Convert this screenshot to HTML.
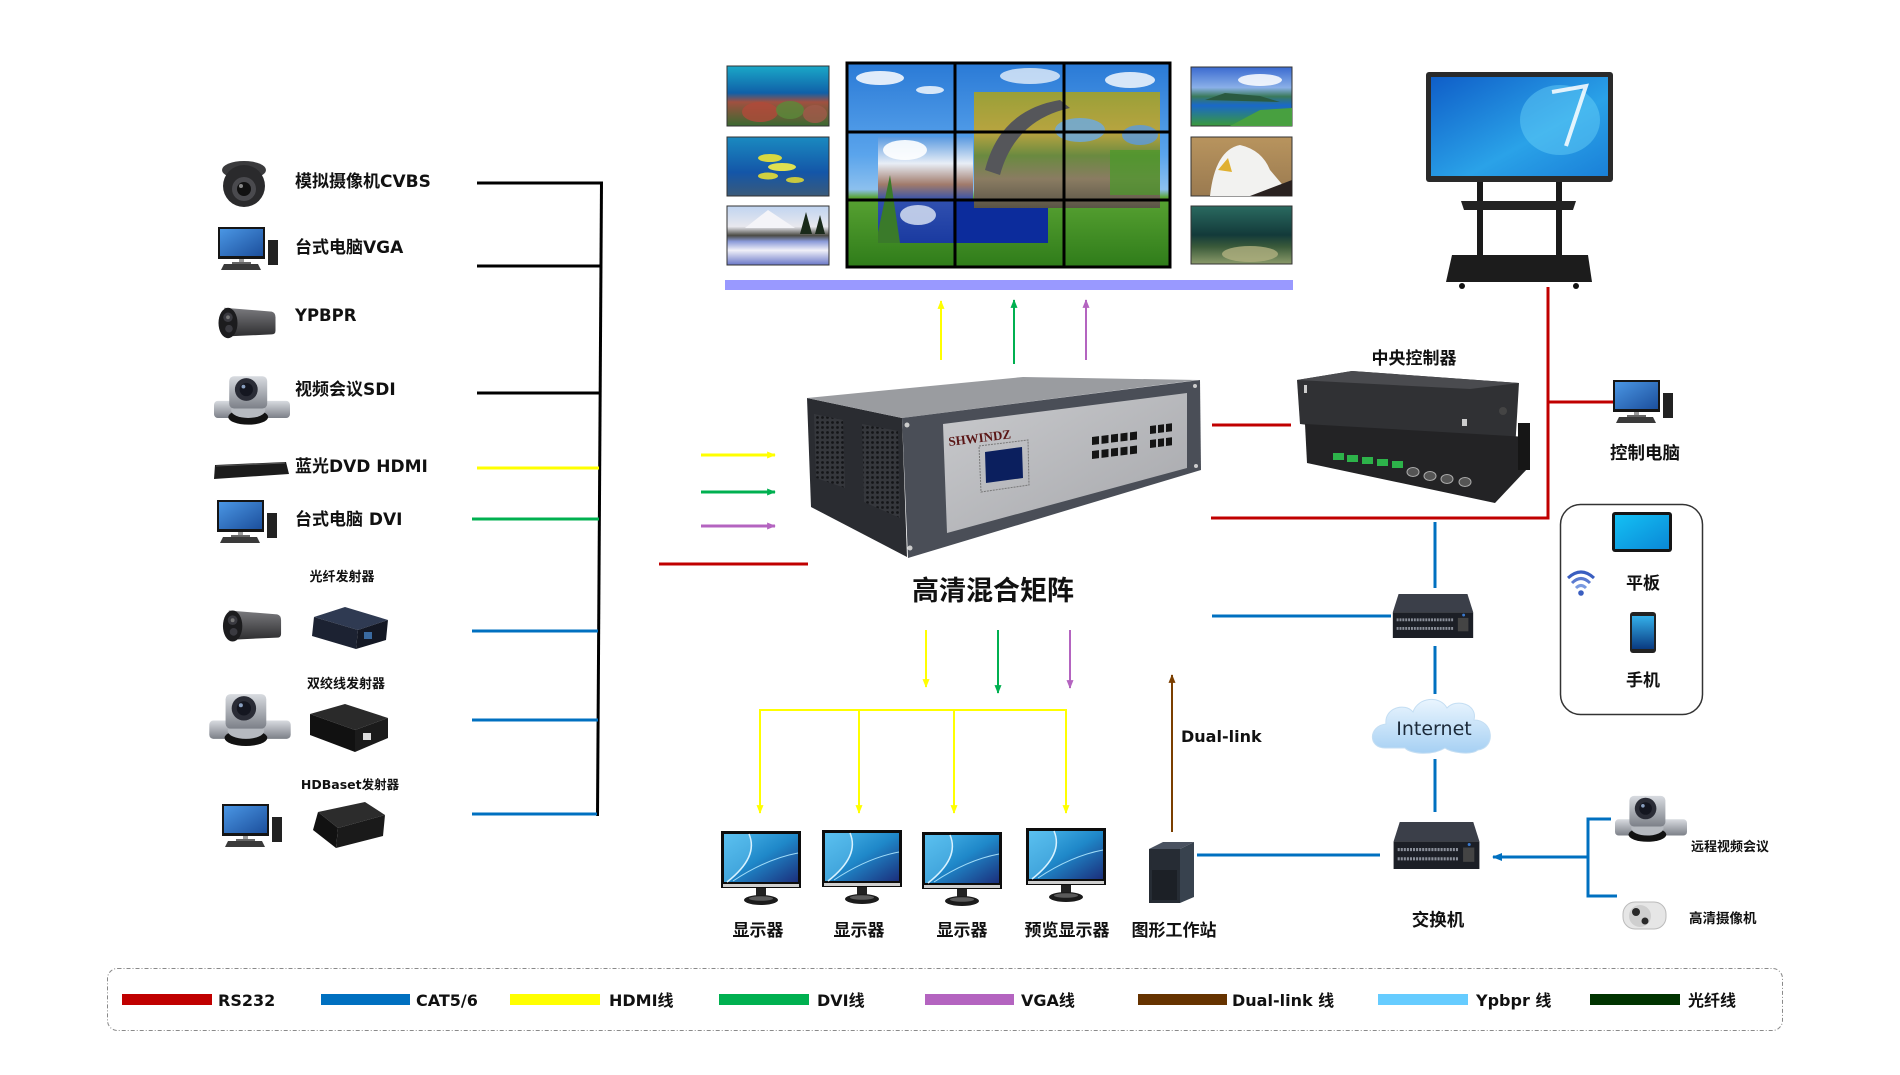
<!DOCTYPE html>
<html><head><meta charset="utf-8"><style>
html,body{margin:0;padding:0;background:#fff;}
svg{display:block;}
</style></head><body>
<svg width="1900" height="1075" viewBox="0 0 1900 1075" xmlns="http://www.w3.org/2000/svg">
<defs>
<linearGradient id="gpc" x1="0" y1="0" x2="1" y2="1"><stop offset="0" stop-color="#4a96e4"/><stop offset="1" stop-color="#1c4f9c"/></linearGradient>
<linearGradient id="gms" x1="0" y1="0" x2="1" y2="1"><stop offset="0" stop-color="#4bb8ec"/><stop offset="0.5" stop-color="#1f88c9"/><stop offset="1" stop-color="#1b2f7c"/></linearGradient>
<linearGradient id="gsky" x1="0" y1="0" x2="0" y2="1"><stop offset="0" stop-color="#2a7ad6"/><stop offset="0.45" stop-color="#5aa4ec"/><stop offset="0.62" stop-color="#8cc0ee"/><stop offset="0.66" stop-color="#58a232"/><stop offset="1" stop-color="#2f7c1a"/></linearGradient>
<linearGradient id="gtree" x1="0" y1="0" x2="0" y2="1"><stop offset="0" stop-color="#9aa038"/><stop offset="0.35" stop-color="#b8a440"/><stop offset="0.55" stop-color="#6a8a40"/><stop offset="0.75" stop-color="#8a7c62"/><stop offset="1" stop-color="#5a5446"/></linearGradient>
<linearGradient id="glake" x1="0" y1="0" x2="0" y2="1"><stop offset="0" stop-color="#5a9ae0"/><stop offset="0.25" stop-color="#e8eef6"/><stop offset="0.45" stop-color="#a07a6a"/><stop offset="0.6" stop-color="#3050b0"/><stop offset="1" stop-color="#1a3aa0"/></linearGradient>
<linearGradient id="gcoral" x1="0" y1="0" x2="0" y2="1"><stop offset="0" stop-color="#1aa8c8"/><stop offset="0.45" stop-color="#1060a8"/><stop offset="0.6" stop-color="#a05040"/><stop offset="1" stop-color="#3a6a30"/></linearGradient>
<linearGradient id="gfish" x1="0" y1="0" x2="0" y2="1"><stop offset="0" stop-color="#1a8ac0"/><stop offset="0.6" stop-color="#1456a8"/><stop offset="1" stop-color="#3a5a7a"/></linearGradient>
<linearGradient id="gsnow" x1="0" y1="0" x2="0" y2="1"><stop offset="0" stop-color="#c0d4f0"/><stop offset="0.35" stop-color="#e8e8ee"/><stop offset="0.5" stop-color="#4a4a44"/><stop offset="0.6" stop-color="#8a9ad8"/><stop offset="0.75" stop-color="#f0f0f8"/><stop offset="1" stop-color="#6a78c8"/></linearGradient>
<linearGradient id="gisl" x1="0" y1="0" x2="0" y2="1"><stop offset="0" stop-color="#3a6ad0"/><stop offset="0.35" stop-color="#8ab0e8"/><stop offset="0.5" stop-color="#3a7a5a"/><stop offset="0.65" stop-color="#1a68c8"/><stop offset="1" stop-color="#3a9a3a"/></linearGradient>
<linearGradient id="geagle" x1="0" y1="0" x2="0" y2="1"><stop offset="0" stop-color="#b8945e"/><stop offset="1" stop-color="#9a7a50"/></linearGradient>
<linearGradient id="gsea" x1="0" y1="0" x2="0" y2="1"><stop offset="0" stop-color="#2a6a60"/><stop offset="0.5" stop-color="#133a3a"/><stop offset="0.7" stop-color="#3a5a3a"/><stop offset="1" stop-color="#8a9a6a"/></linearGradient>
<linearGradient id="gpanel" x1="0" y1="0" x2="1" y2="1"><stop offset="0" stop-color="#c9cacd"/><stop offset="1" stop-color="#a6a7ab"/></linearGradient>
<linearGradient id="gtouch" x1="0" y1="0" x2="1" y2="1"><stop offset="0" stop-color="#0f5ec8"/><stop offset="0.6" stop-color="#2aa2e8"/><stop offset="1" stop-color="#1a80d8"/></linearGradient>
<linearGradient id="gcloud" x1="0" y1="0" x2="0" y2="1"><stop offset="0" stop-color="#eaf5fe"/><stop offset="1" stop-color="#a6d0f3"/></linearGradient>
<linearGradient id="gtab" x1="0" y1="0" x2="1" y2="1"><stop offset="0" stop-color="#14c0f4"/><stop offset="1" stop-color="#0a88d6"/></linearGradient>
<linearGradient id="gph" x1="0" y1="0" x2="0" y2="1"><stop offset="0" stop-color="#34b0ea"/><stop offset="1" stop-color="#0a3a80"/></linearGradient>
<linearGradient id="gsil" x1="0" y1="0" x2="0" y2="1"><stop offset="0" stop-color="#d8dbe0"/><stop offset="1" stop-color="#7c8088"/></linearGradient>
<linearGradient id="gbul" x1="0" y1="0" x2="0" y2="1"><stop offset="0" stop-color="#7a7a7e"/><stop offset="1" stop-color="#2e2e30"/></linearGradient>
<pattern id="perf" width="5" height="5" patternUnits="userSpaceOnUse"><rect width="5" height="5" fill="#35373c"/><circle cx="2.5" cy="2.5" r="1.4" fill="#141518"/></pattern>

<marker id="my" viewBox="0 0 10 8" refX="9" refY="4" markerWidth="9" markerHeight="7" markerUnits="userSpaceOnUse" orient="auto"><path d="M0,0 L10,4 L0,8 z" fill="#ffff00"/></marker>
<marker id="mg" viewBox="0 0 10 8" refX="9" refY="4" markerWidth="9" markerHeight="7" markerUnits="userSpaceOnUse" orient="auto"><path d="M0,0 L10,4 L0,8 z" fill="#00b050"/></marker>
<marker id="mp" viewBox="0 0 10 8" refX="9" refY="4" markerWidth="9" markerHeight="7" markerUnits="userSpaceOnUse" orient="auto"><path d="M0,0 L10,4 L0,8 z" fill="#b464c0"/></marker>
<marker id="mb" viewBox="0 0 10 8" refX="9" refY="4" markerWidth="9" markerHeight="7" markerUnits="userSpaceOnUse" orient="auto"><path d="M0,0 L10,4 L0,8 z" fill="#7b3f00"/></marker>
<marker id="mbl" viewBox="0 0 10 8" refX="9" refY="4" markerWidth="10" markerHeight="9" markerUnits="userSpaceOnUse" orient="auto"><path d="M0,0 L10,4 L0,8 z" fill="#0070c0"/></marker>

<symbol id="pc" viewBox="0 0 62 44">
 <rect x="0" y="0" width="47" height="32" fill="#151515"/>
 <rect x="2" y="2" width="43" height="27" fill="url(#gpc)"/>
 <rect x="21" y="32" width="5" height="4" fill="#9a9a9a"/>
 <rect x="14" y="35" width="19" height="2" fill="#666"/>
 <rect x="50" y="13" width="10" height="25" fill="#222"/>
 <polygon points="6,37 40,37 43,43 3,43" fill="#3a3a3a"/>
</symbol>
<symbol id="mon" viewBox="0 0 80 75">
 <rect x="0" y="0" width="80" height="57" fill="#0d0d0d"/>
 <rect x="3" y="3" width="74" height="48" fill="url(#gms)"/>
 <path d="M28 3 Q40 26 6 51 L3 51 L3 3 Z" fill="#6ccaf4" opacity="0.45"/>
 <path d="M28 3 Q38 26 6 51" stroke="#d8f2ff" stroke-width="1.5" fill="none"/>
 <path d="M77 22 Q45 28 12 50" stroke="#a0dcf8" stroke-width="1" fill="none"/>
 <rect x="2" y="53" width="76" height="3" fill="#cfcfcf"/>
 <rect x="35" y="57" width="10" height="9" fill="#222"/>
 <ellipse cx="40" cy="69" rx="17" ry="5" fill="#1b1b1b"/>
 <ellipse cx="40" cy="67.5" rx="12" ry="2.3" fill="#5a5a5a"/>
</symbol>
<symbol id="sw" viewBox="0 0 84 46">
 <polygon points="6,0 78,0 84,19 0,19" fill="#3b3f49"/>
 <rect x="0" y="19" width="84" height="27" fill="#1c1f26"/>
 <line x1="4" y1="27" x2="64" y2="27" stroke="#8a8f99" stroke-width="3" stroke-dasharray="2 1"/>
 <line x1="4" y1="36" x2="64" y2="36" stroke="#8a8f99" stroke-width="3" stroke-dasharray="2 1"/>
 <rect x="68" y="25" width="11" height="14" fill="#444"/>
 <circle cx="74" cy="22" r="1.5" fill="#3a7ad0"/>
</symbol>
<symbol id="ptz" viewBox="0 0 80 56">
 <rect x="0" y="30" width="80" height="18" rx="4" fill="url(#gsil)"/>
 <ellipse cx="36" cy="47" rx="21" ry="8" fill="#121212"/>
 <ellipse cx="36" cy="40" rx="18" ry="8" fill="#b6bac0"/>
 <rect x="16" y="4" width="40" height="34" rx="5" fill="url(#gsil)"/>
 <circle cx="34" cy="18" r="12" fill="#2a2c36"/>
 <circle cx="34" cy="18" r="7" fill="#141620"/>
 <circle cx="31" cy="15" r="2" fill="#8aa0c0"/>
</symbol>
<symbol id="bul" viewBox="0 0 64 40">
 <path d="M8 4 L58 8 Q62 9 62 14 L62 28 Q62 32 58 32 L14 34 Z" fill="url(#gbul)"/>
 <ellipse cx="12" cy="20" rx="10" ry="16" fill="#1c1c1e"/>
 <circle cx="12" cy="14" r="5" fill="#3a3a40"/>
 <circle cx="13" cy="26" r="4" fill="#3a3a40"/>
 <circle cx="12" cy="14" r="2" fill="#777"/>
</symbol>
</defs>

<rect width="1900" height="1075" fill="#fff"/>

<!-- ===== Video wall ===== -->
<rect x="727" y="66" width="102" height="60" fill="url(#gcoral)" stroke="#333" stroke-width="1"/>
<ellipse cx="760" cy="112" rx="18" ry="10" fill="#b04a3a" opacity="0.8"/><ellipse cx="790" cy="110" rx="14" ry="9" fill="#5a8a3a" opacity="0.8"/><ellipse cx="815" cy="114" rx="12" ry="9" fill="#a05a4a" opacity="0.8"/>
<rect x="727" y="137" width="102" height="59" fill="url(#gfish)" stroke="#333" stroke-width="1"/>
<ellipse cx="770" cy="158" rx="12" ry="4" fill="#d8d840"/><ellipse cx="782" cy="167" rx="14" ry="4" fill="#e0e050"/><ellipse cx="768" cy="176" rx="10" ry="3.5" fill="#d0d040"/><ellipse cx="795" cy="180" rx="9" ry="3" fill="#c8c840"/>
<rect x="727" y="206" width="102" height="59" fill="url(#gsnow)" stroke="#333" stroke-width="1"/>
<polygon points="745,228 768,210 795,228" fill="#f4f4f8"/><polygon points="800,234 806,212 812,234" fill="#1a2a1a"/><polygon points="815,234 820,215 825,234" fill="#1a2a1a"/>

<rect x="847" y="63" width="323" height="204" fill="url(#gsky)"/>
<ellipse cx="880" cy="78" rx="24" ry="7" fill="#fff" opacity="0.85"/><ellipse cx="930" cy="90" rx="14" ry="4" fill="#fff" opacity="0.8"/><ellipse cx="1030" cy="76" rx="30" ry="8" fill="#fff" opacity="0.7"/><ellipse cx="1130" cy="80" rx="25" ry="8" fill="#fff" opacity="0.8"/>
<rect x="878" y="137" width="95" height="106" fill="url(#glake)"/>
<ellipse cx="905" cy="150" rx="22" ry="10" fill="#fff" opacity="0.9"/><polygon points="878,232 890,175 900,243 878,243" fill="#3a7a2a"/><ellipse cx="918" cy="215" rx="18" ry="10" fill="#e0e8f6" opacity="0.8"/>
<rect x="953" y="200" width="95" height="43" fill="#0c2c9c"/>
<rect x="974" y="92" width="186" height="116" fill="url(#gtree)"/>
<ellipse cx="1080" cy="130" rx="25" ry="12" fill="#6aaae6" opacity="0.8"/><ellipse cx="1140" cy="135" rx="18" ry="10" fill="#5a9ae0" opacity="0.8"/>
<path d="M985 170 Q1000 110 1060 100 L1070 108 Q1015 120 1000 175 Z" fill="#55565a"/>
<rect x="1110" y="150" width="50" height="45" fill="#4a9a2a" opacity="0.7"/>
<rect x="847" y="63" width="323" height="204" fill="none" stroke="#000" stroke-width="3"/>
<line x1="955" y1="63" x2="955" y2="267" stroke="#000" stroke-width="3"/>
<line x1="1064" y1="63" x2="1064" y2="267" stroke="#000" stroke-width="3"/>
<line x1="847" y1="132" x2="1170" y2="132" stroke="#000" stroke-width="3"/>
<line x1="847" y1="200" x2="1170" y2="200" stroke="#000" stroke-width="3"/>

<rect x="1191" y="67" width="101" height="59" fill="url(#gisl)" stroke="#333" stroke-width="1"/>
<ellipse cx="1260" cy="80" rx="22" ry="6" fill="#fff" opacity="0.85"/><polygon points="1205,100 1225,93 1260,96 1280,102" fill="#2a5a40"/><polygon points="1230,126 1260,110 1292,108 1292,126" fill="#48a040"/>
<rect x="1191" y="137" width="101" height="59" fill="url(#geagle)" stroke="#333" stroke-width="1"/>
<path d="M1210 196 Q1215 150 1240 145 Q1262 150 1270 170 L1292 196 Z" fill="#f2f2f0"/>
<polygon points="1228,158 1218,170 1232,172" fill="#e0b030"/><polygon points="1250,196 1292,180 1292,196" fill="#2a2220"/>
<rect x="1191" y="206" width="101" height="58" fill="url(#gsea)" stroke="#333" stroke-width="1"/>
<ellipse cx="1250" cy="254" rx="28" ry="8" fill="#b0b080" opacity="0.8"/>

<rect x="725" y="280" width="568" height="10" fill="#9999ff"/>

<!-- up arrows -->
<line x1="941" y1="360" x2="941" y2="301" stroke="#ffff00" stroke-width="2" marker-end="url(#my)"/>
<line x1="1014" y1="364" x2="1014" y2="300" stroke="#00b050" stroke-width="2" marker-end="url(#mg)"/>
<line x1="1086" y1="360" x2="1086" y2="300" stroke="#b464c0" stroke-width="2" marker-end="url(#mp)"/>

<!-- ===== Left inputs ===== -->
<g font-family="'DejaVu Sans','Noto Sans CJK SC',sans-serif" font-weight="bold" fill="#111">
<text x="295" y="187" font-size="17">模拟摄像机CVBS</text>
<text x="295" y="253" font-size="17">台式电脑VGA</text>
<text x="295" y="321" font-size="16.5">YPBPR</text>
<text x="295" y="395" font-size="17">视频会议SDI</text>
<text x="295" y="472" font-size="17">蓝光DVD HDMI</text>
<text x="295" y="525" font-size="17">台式电脑 DVI</text>
<text x="342" y="581" font-size="13" text-anchor="middle">光纤发射器</text>
<text x="346" y="688" font-size="13" text-anchor="middle">双绞线发射器</text>
<text x="350" y="789" font-size="12.5" text-anchor="middle">HDBaset发射器</text>
</g>

<!-- dome camera -->
<ellipse cx="244" cy="170" rx="22" ry="9" fill="#3a3a3c"/>
<circle cx="244" cy="186" r="21" fill="#2a2a2c"/>
<circle cx="244" cy="189" r="12" fill="#4a4a4e"/>
<circle cx="244" cy="189" r="7" fill="#111"/>
<circle cx="241" cy="186" r="2" fill="#888"/>
<use href="#pc" x="218" y="227" width="62" height="44"/>
<use href="#bul" x="215" y="304" width="64" height="38"/>
<use href="#ptz" x="214" y="372" width="76" height="54"/>
<polygon points="215,465 286,462 289,474 214,479" fill="#1c1c1c"/><line x1="216" y1="466" x2="285" y2="463" stroke="#555" stroke-width="1"/>
<use href="#pc" x="217" y="499" width="62" height="46"/>

<use href="#bul" x="221" y="605" width="62" height="42"/>
<polygon points="314,617 345,607 388,620 358,630" fill="#2f3a52"/>
<polygon points="314,617 358,630 356,649 312,636" fill="#1c2232"/>
<polygon points="358,630 388,620 386,640 356,649" fill="#141824"/>
<rect x="364" y="632" width="8" height="7" fill="#3a6aa0"/>

<use href="#ptz" x="209" y="690" width="82" height="57"/>
<polygon points="310,714 345,704 388,718 355,730" fill="#2a2a2a"/>
<polygon points="310,714 355,730 355,752 310,735" fill="#111"/>
<polygon points="355,730 388,718 388,738 355,752" fill="#1b1b1b"/>
<rect x="363" y="733" width="8" height="7" fill="#ddd"/>

<use href="#pc" x="221" y="804" width="64" height="44"/>
<polygon points="318,812 365,802 385,815 338,828" fill="#2c2c2c"/>
<polygon points="318,812 338,828 336,848 313,830" fill="#111"/>
<polygon points="338,828 385,815 383,836 336,848" fill="#1a1a1a"/>

<!-- left bus lines -->
<line x1="477" y1="183" x2="602" y2="183" stroke="#000" stroke-width="3"/>
<line x1="477" y1="266" x2="601" y2="266" stroke="#000" stroke-width="3"/>
<line x1="477" y1="393" x2="600" y2="393" stroke="#000" stroke-width="3"/>
<line x1="601.5" y1="181.5" x2="597.5" y2="816" stroke="#000" stroke-width="3"/>
<line x1="477" y1="468" x2="599" y2="468" stroke="#ffff00" stroke-width="3"/>
<line x1="472" y1="519" x2="599" y2="519" stroke="#00b050" stroke-width="3"/>
<line x1="472" y1="631" x2="598" y2="631" stroke="#0070c0" stroke-width="3"/>
<line x1="472" y1="720" x2="598" y2="720" stroke="#0070c0" stroke-width="3"/>
<line x1="472" y1="814" x2="597" y2="814" stroke="#0070c0" stroke-width="3"/>

<!-- input arrows -->
<line x1="701" y1="455" x2="775" y2="455" stroke="#ffff00" stroke-width="3" marker-end="url(#my)"/>
<line x1="701" y1="492" x2="775" y2="492" stroke="#00b050" stroke-width="3" marker-end="url(#mg)"/>
<line x1="701" y1="526" x2="775" y2="526" stroke="#b464c0" stroke-width="3" marker-end="url(#mp)"/>
<line x1="659" y1="564" x2="808" y2="564" stroke="#c00000" stroke-width="3"/>

<!-- ===== Matrix ===== -->
<polygon points="807,398 902,418 907,557 811,507" fill="#2a2c31"/>
<polygon points="814,414 843,420 845,488 816,478" fill="url(#perf)"/>
<polygon points="862,424 898,431 900,518 864,502" fill="url(#perf)"/>
<polygon points="807,398 1023,377 1198,380 902,418" fill="#9a9ca0"/>
<polygon points="902,418 1200,380 1201,470 908,558" fill="#4a4e57"/>
<polygon points="943,424 1187,393 1187,468 947,533" fill="url(#gpanel)"/>
<text x="949" y="446" font-family="'Liberation Serif',serif" font-weight="bold" font-size="13" fill="#5a1616" transform="rotate(-7 949 446)">SHWINDZ</text>
<polygon points="979,446 1028,440 1029,485 981,492" fill="none" stroke="#777" stroke-width="1" stroke-dasharray="2 1"/>
<polygon points="985,452 1022,447 1023,478 986,483" fill="#0b1f5e"/>
<g transform="translate(1092,437) skewY(-7)" fill="#141414">
<rect x="0" y="0" width="7" height="8"/><rect x="9.5" y="0" width="7" height="8"/><rect x="19" y="0" width="7" height="8"/><rect x="28.5" y="0" width="7" height="8"/><rect x="38" y="0" width="7" height="8"/>
<rect x="0" y="14" width="7" height="8"/><rect x="9.5" y="14" width="7" height="8"/><rect x="19" y="14" width="7" height="8"/><rect x="28.5" y="14" width="7" height="8"/><rect x="38" y="14" width="7" height="8"/>
</g>
<g transform="translate(1150,426) skewY(-7)" fill="#141414">
<rect x="0" y="0" width="6" height="8"/><rect x="8" y="0" width="6" height="8"/><rect x="16" y="0" width="6" height="8"/>
<rect x="0" y="14" width="6" height="8"/><rect x="8" y="14" width="6" height="8"/><rect x="16" y="14" width="6" height="8"/>
</g>
<circle cx="907" cy="425" r="2.5" fill="#ccc"/><circle cx="910" cy="548" r="2.5" fill="#ccc"/><circle cx="1195" cy="386" r="2" fill="#ccc"/><circle cx="1196" cy="466" r="2" fill="#ccc"/>
<text x="993" y="600" font-family="'Noto Sans CJK SC','WenQuanYi Zen Hei',sans-serif" font-weight="bold" font-size="27" text-anchor="middle" fill="#111">高清混合矩阵</text>

<!-- down arrows from matrix -->
<line x1="926" y1="630" x2="926" y2="687" stroke="#ffff00" stroke-width="2" marker-end="url(#my)"/>
<line x1="998" y1="630" x2="998" y2="693" stroke="#00b050" stroke-width="2" marker-end="url(#mg)"/>
<line x1="1070" y1="630" x2="1070" y2="688" stroke="#b464c0" stroke-width="2" marker-end="url(#mp)"/>
<line x1="759" y1="710" x2="1067" y2="710" stroke="#ffff00" stroke-width="2"/>
<line x1="760" y1="709" x2="760" y2="813" stroke="#ffff00" stroke-width="2" marker-end="url(#my)"/>
<line x1="859" y1="709" x2="859" y2="813" stroke="#ffff00" stroke-width="2" marker-end="url(#my)"/>
<line x1="954" y1="709" x2="954" y2="813" stroke="#ffff00" stroke-width="2" marker-end="url(#my)"/>
<line x1="1066" y1="709" x2="1066" y2="813" stroke="#ffff00" stroke-width="2" marker-end="url(#my)"/>

<!-- monitors -->
<use href="#mon" x="721" y="831" width="80" height="75"/>
<use href="#mon" x="822" y="830" width="80" height="75"/>
<use href="#mon" x="922" y="832" width="80" height="75"/>
<use href="#mon" x="1026" y="828" width="80" height="75"/>
<!-- workstation -->
<polygon points="1149,849 1163,842 1194,842 1180,849" fill="#4a5260"/>
<polygon points="1149,849 1180,849 1180,903 1149,903" fill="#262c34"/>
<polygon points="1180,849 1194,842 1194,897 1180,903" fill="#38424e"/>
<rect x="1152" y="870" width="25" height="30" fill="#1c2026"/>
<line x1="1172" y1="832" x2="1172" y2="675" stroke="#7b3f00" stroke-width="2" marker-end="url(#mb)"/>

<g font-family="'DejaVu Sans','Noto Sans CJK SC',sans-serif" font-weight="bold" fill="#111">
<text x="1181" y="742" font-size="16">Dual-link</text>
<text x="758" y="936" font-size="17" text-anchor="middle">显示器</text>
<text x="859" y="936" font-size="17" text-anchor="middle">显示器</text>
<text x="962" y="936" font-size="17" text-anchor="middle">显示器</text>
<text x="1067" y="936" font-size="17" text-anchor="middle">预览显示器</text>
<text x="1174" y="936" font-size="17" text-anchor="middle">图形工作站</text>
<text x="1438" y="926" font-size="17.5" text-anchor="middle">交换机</text>
<text x="1414" y="364" font-size="17" text-anchor="middle">中央控制器</text>
<text x="1645" y="459" font-size="17.5" text-anchor="middle">控制电脑</text>
<text x="1643" y="589" font-size="17" text-anchor="middle">平板</text>
<text x="1643" y="686" font-size="17" text-anchor="middle">手机</text>
<text x="1691" y="851" font-size="13">远程视频会议</text>
<text x="1689" y="923" font-size="13.5">高清摄像机</text>
</g>

<!-- ===== Right side ===== -->
<!-- touch display -->
<rect x="1426" y="72" width="187" height="110" rx="3" fill="#2a2a2a"/>
<rect x="1431" y="77" width="177" height="99" fill="url(#gtouch)"/>
<ellipse cx="1560" cy="120" rx="40" ry="35" fill="#6ad2f8" opacity="0.45"/>
<path d="M1552 92 L1586 86 L1566 146" stroke="#fff" stroke-width="4" fill="none" opacity="0.85"/>
<rect x="1477" y="182" width="6" height="74" fill="#1a1a1a"/>
<rect x="1556" y="182" width="6" height="74" fill="#1a1a1a"/>
<polygon points="1461,201 1576,201 1573,210 1464,210" fill="#222"/>
<polygon points="1452,255 1588,255 1592,282 1446,282" fill="#1c1c1c"/>
<circle cx="1462" cy="286" r="3" fill="#111"/><circle cx="1576" cy="286" r="3" fill="#111"/>

<!-- red RS232 lines -->
<line x1="1212" y1="425" x2="1291" y2="425" stroke="#c00000" stroke-width="3"/>
<polyline points="1211,518 1548,518 1548,287" fill="none" stroke="#c00000" stroke-width="3"/>
<line x1="1548" y1="402" x2="1613" y2="402" stroke="#c00000" stroke-width="3"/>

<!-- central controller -->
<polygon points="1297,380 1352,371 1519,383 1515,450 1300,424" fill="#303134"/>
<polygon points="1297,380 1352,371 1519,383 1470,389" fill="#4a4b4f"/>
<polygon points="1305,424 1528,437 1528,468 1495,503 1307,463" fill="#232325"/>
<rect x="1518" y="423" width="12" height="47" fill="#161616"/>
<g fill="#2db34a"><rect x="1333" y="453" width="11" height="7"/><rect x="1347" y="455" width="11" height="7"/><rect x="1362" y="457" width="11" height="7"/><rect x="1377" y="459" width="11" height="7"/><rect x="1392" y="461" width="11" height="7"/></g>
<g fill="#555" stroke="#aaa" stroke-width="1"><ellipse cx="1413" cy="472" rx="6" ry="4.5"/><ellipse cx="1430" cy="476" rx="6" ry="4.5"/><ellipse cx="1447" cy="479" rx="6" ry="4.5"/><ellipse cx="1465" cy="482" rx="6" ry="4.5"/></g>
<rect x="1462" y="419" width="5" height="7" fill="#ccc"/>
<circle cx="1503" cy="411" r="4" fill="#444"/>
<rect x="1304" y="385" width="3" height="8" fill="#ccc"/>

<use href="#pc" x="1613" y="380" width="62" height="44"/>

<!-- mobile box -->
<rect x="1560.5" y="504.5" width="142" height="210" rx="20" fill="none" stroke="#333" stroke-width="1.5"/>
<rect x="1612" y="512" width="60" height="40" rx="3" fill="#151515"/>
<rect x="1615" y="515" width="54" height="34" fill="url(#gtab)"/>
<rect x="1630" y="612" width="26" height="41" rx="3" fill="#222"/>
<rect x="1632" y="616" width="22" height="33" fill="url(#gph)"/>
<path d="M1568 578 Q1581 566 1594 578" stroke="#3a5ec0" stroke-width="3" fill="none"/>
<path d="M1572 583 Q1581 574 1590 583" stroke="#5a7ad0" stroke-width="3" fill="none"/>
<path d="M1576 588 Q1581 583 1586 588" stroke="#7a9ae0" stroke-width="3" fill="none"/>
<circle cx="1581" cy="593" r="2.8" fill="#3a5ec0"/>

<!-- network -->
<line x1="1435" y1="522" x2="1435" y2="588" stroke="#0070c0" stroke-width="3"/>
<line x1="1212" y1="616" x2="1391" y2="616" stroke="#0070c0" stroke-width="3"/>
<use href="#sw" x="1392" y="594" width="82" height="44"/>
<line x1="1435" y1="646" x2="1435" y2="694" stroke="#0070c0" stroke-width="3"/>
<path d="M1385 748 C1368 748 1368 726 1386 724 C1384 708 1405 702 1413 712 C1418 697 1440 695 1447 708 C1456 698 1478 704 1474 720 C1494 720 1496 748 1478 750 C1470 756 1450 752 1445 748 C1432 756 1410 754 1405 748 Z" fill="url(#gcloud)" stroke="#c4def3" stroke-width="1"/>
<text x="1434" y="735" font-family="'DejaVu Sans',sans-serif" font-size="19" text-anchor="middle" fill="#1c2a3a">Internet</text>
<line x1="1435" y1="759" x2="1435" y2="812" stroke="#0070c0" stroke-width="3"/>
<use href="#sw" x="1392" y="822" width="89" height="47"/>
<line x1="1197" y1="855" x2="1380" y2="855" stroke="#0070c0" stroke-width="3"/>
<line x1="1588" y1="857" x2="1493" y2="857" stroke="#0070c0" stroke-width="3" marker-end="url(#mbl)"/>
<polyline points="1611,819 1588,819 1588,896 1617,896" fill="none" stroke="#0070c0" stroke-width="3"/>
<use href="#ptz" x="1615" y="792" width="72" height="51"/>
<!-- HD camera -->
<rect x="1623" y="902" width="43" height="27" rx="12" fill="#e6e6e6" stroke="#bbb" stroke-width="1"/>
<circle cx="1640" cy="916" r="11" fill="#cfcfcf"/>
<circle cx="1636" cy="912" r="4" fill="#2a2a2a"/>
<circle cx="1645" cy="921" r="3.5" fill="#2a2a2a"/>

<!-- ===== Legend ===== -->
<rect x="107.5" y="968.5" width="1675" height="62" rx="10" fill="none" stroke="#8a8a8a" stroke-width="1" stroke-dasharray="4 2 1 2"/>
<rect x="122" y="994" width="90" height="11" fill="#c00000"/>
<rect x="321" y="994" width="89" height="11" fill="#0070c0"/>
<rect x="510" y="994" width="90" height="11" fill="#ffff00"/>
<rect x="719" y="994" width="90" height="11" fill="#00b050"/>
<rect x="925" y="994" width="89" height="11" fill="#b464c0"/>
<rect x="1138" y="994" width="89" height="11" fill="#663300"/>
<rect x="1378" y="994" width="90" height="11" fill="#66ccff"/>
<rect x="1590" y="994" width="90" height="11" fill="#003300"/>
<g font-family="'DejaVu Sans','Noto Sans CJK SC',sans-serif" font-weight="bold" font-size="16" fill="#111">
<text x="218" y="1006">RS232</text>
<text x="416" y="1006">CAT5/6</text>
<text x="609" y="1006">HDMI线</text>
<text x="817" y="1006">DVI线</text>
<text x="1021" y="1006">VGA线</text>
<text x="1232" y="1006">Dual-link 线</text>
<text x="1476" y="1006">Ypbpr 线</text>
<text x="1688" y="1006">光纤线</text>
</g>
</svg>
</body></html>
